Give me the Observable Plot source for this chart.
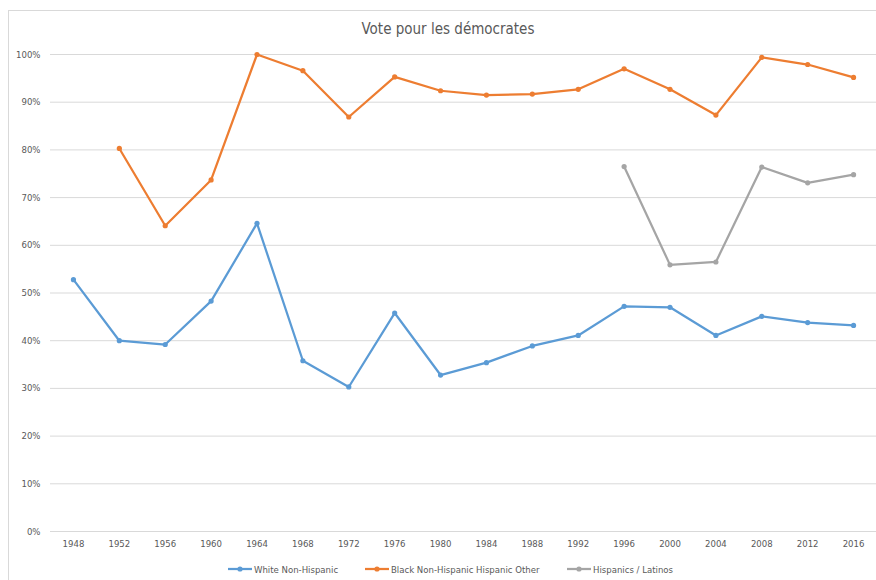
<!DOCTYPE html>
<html>
<head>
<meta charset="utf-8">
<script src="https://cdn.jsdelivr.net/npm/d3@7"></script>
<script src="https://cdn.jsdelivr.net/npm/@observablehq/plot@0.6"></script>
<style>
  html, body { margin: 0; padding: 0; background: #fff; }
  body { width: 876px; height: 580px; position: relative; overflow: hidden;
         font-family: "Liberation Sans Narrow", "DejaVu Sans Condensed", "Open Sans", sans-serif; }
  #frame { position: absolute; left: 8px; top: 10px; width: 900px; height: 600px;
           border: 1px solid #d9d9d9; box-sizing: border-box; }
  #chart { position: absolute; left: 0; top: 0; }
  #title { position: absolute; top: 20px; left: 348px; width: 200px; text-align: center;
           font-size: 15px; color: #595959; white-space: nowrap; }
  #legend { position: absolute; top: 562px; left: 0; width: 876px; height: 14px; font-size: 9.5px; color: #595959; }
  .item { position: absolute; display: flex; align-items: center; white-space: nowrap; }
  .sw { width: 24px; height: 14px; margin-right: 2px; }
</style>
</head>
<body>
<div id="frame"></div>
<div id="chart"></div>
<div id="title">Vote pour les démocrates</div>
<div id="legend"></div>
<script>
const years = ["1948","1952","1956","1960","1964","1968","1972","1976","1980","1984","1988","1992","1996","2000","2004","2008","2012","2016"];
const white    = [52.8, 40.0, 39.2, 48.3, 64.6, 35.8, 30.3, 45.8, 32.8, 35.4, 38.9, 41.1, 47.2, 47.0, 41.1, 45.1, 43.8, 43.2];
const black    = [null, 80.3, 64.1, 73.7, 100.0, 96.6, 86.9, 95.3, 92.4, 91.5, 91.7, 92.7, 97.0, 92.7, 87.3, 99.4, 97.9, 95.2];
const hispanic = [null, null, null, null, null, null, null, null, null, null, null, null, 76.5, 55.9, 56.5, 76.4, 73.1, 74.8];
const seriesNames = ["White Non-Hispanic", "Black Non-Hispanic Hispanic Other", "Hispanics / Latinos"];
const seriesColors = ["#5b9bd5", "#ed7d31", "#a5a5a5"];
const yTicks = [0, 10, 20, 30, 40, 50, 60, 70, 80, 90, 100];

const seriesValues = [white, black, hispanic];
const rows = [];
seriesValues.forEach((vals, si) => {
  vals.forEach((v, i) => {
    if (v != null) rows.push({year: years[i], value: v, series: seriesNames[si]});
  });
});

const chart = Plot.plot({
  width: 876,
  height: 580,
  marginTop: 54,
  marginBottom: 49,
  marginLeft: 50,
  marginRight: 0,
  style: { fontFamily: '"Liberation Sans Narrow", "DejaVu Sans Condensed", "Open Sans", sans-serif', fontSize: "9.5px", color: "#595959", background: "transparent" },
  x: { type: "point", domain: years, padding: 0.5, round: false, label: null },
  y: { domain: [0, 100], label: null },
  color: { domain: seriesNames, range: seriesColors },
  marks: [
    Plot.ruleY(yTicks, { stroke: "#d9d9d9", strokeWidth: 1 }),
    Plot.axisY({ ticks: yTicks, tickSize: 0, tickPadding: 10, tickFormat: d => d + "%", label: null, fill: "#595959" }),
    Plot.axisX({ tickSize: 0, tickPadding: 9, label: null, fill: "#595959" }),
    Plot.line(rows, { x: "year", y: "value", z: "series", stroke: "series", strokeWidth: 2.25, strokeLinejoin: "round", strokeLinecap: "round" }),
    Plot.dot(rows, { x: "year", y: "value", fill: "series", r: 2.6, stroke: null })
  ]
});
document.getElementById("chart").appendChild(chart);

const legendPos = [228, 365, 567];
const legend = document.getElementById("legend");
seriesNames.forEach((name, i) => {
  const item = document.createElement("div");
  item.className = "item";
  item.style.left = legendPos[i] + "px";
  item.innerHTML = `<svg class="sw" viewBox="0 0 24 14"><line x1="0" y1="7" x2="24" y2="7" stroke="${seriesColors[i]}" stroke-width="2.25"/><circle cx="12" cy="7" r="2.6" fill="${seriesColors[i]}"/></svg><span>${name}</span>`;
  legend.appendChild(item);
});
</script>
</body>
</html>
